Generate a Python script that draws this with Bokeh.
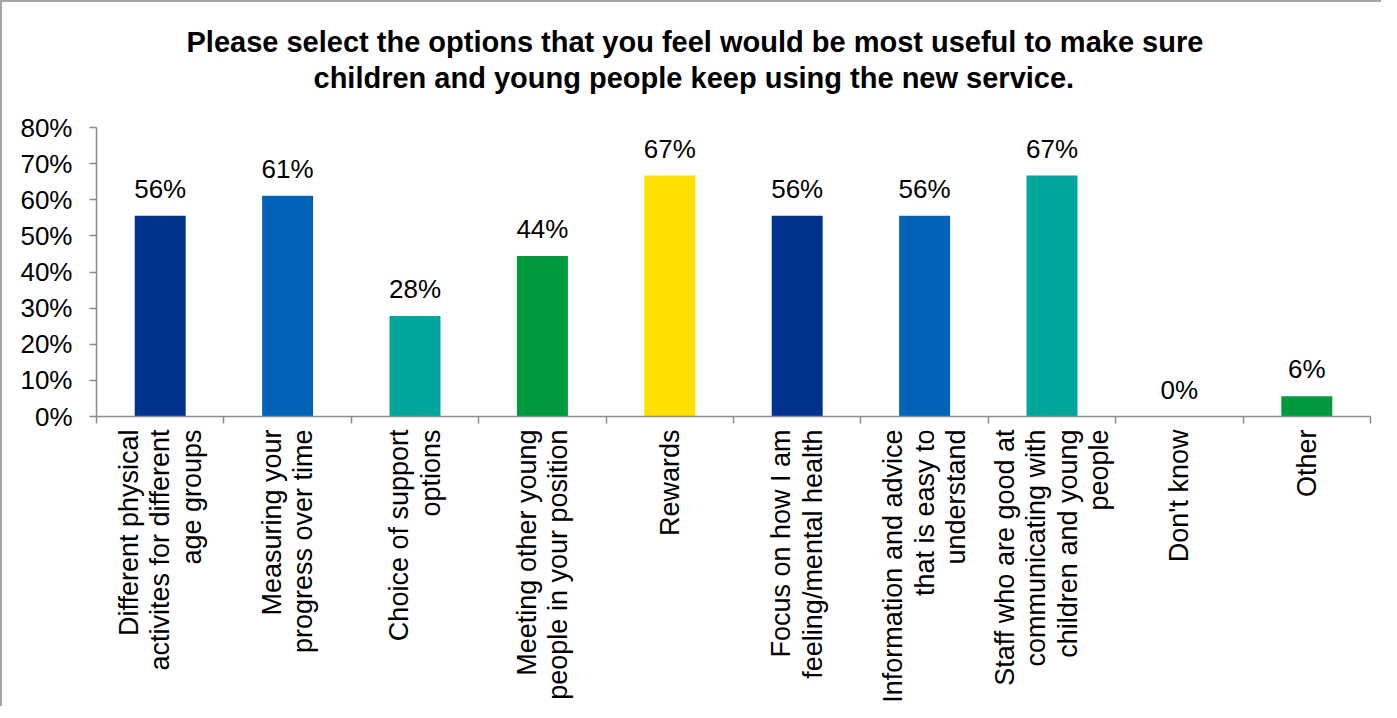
import numpy as np
from bokeh.plotting import figure
from bokeh.models import (ColumnDataSource, FixedTicker, NumeralTickFormatter,
                          LabelSet, Range1d, LinearAxis, Title)
from bokeh.core.properties import value
from bokeh.embed import file_html
from bokeh.resources import INLINE

# ---------------- data ----------------
title_lines = [
    "Please select the options that you feel would be most useful to make sure",
    "children and young people keep using the new service.",
]
categories = [
    "Different physical\nactivites for different\nage groups",
    "Measuring your\nprogress over time",
    "Choice of support\noptions",
    "Meeting other young\npeople in your position",
    "Rewards",
    "Focus on how I am\nfeeling/mental health",
    "Information and advice\nthat is easy to\nunderstand",
    "Staff who are good at\ncommunicating with\nchildren and young\npeople",
    "Don't know",
    "Other",
]
values = [0.556, 0.611, 0.278, 0.444, 0.667, 0.556, 0.556, 0.667, 0.0, 0.056]
y_ticks = [0.0, 0.1, 0.2, 0.3, 0.4, 0.5, 0.6, 0.7, 0.8]

# ---------------- style ----------------
bar_colors = ["#00338D", "#0063B8", "#00A69C", "#009A3E", "#FFE000",
              "#00338D", "#0063B8", "#00A69C", "#009A3E", "#009A3E"]
FONT = "Liberation Sans"
AXIS_GRAY = "#8C8C8C"

xs = np.arange(len(categories)) + 0.5
value_labels = [f"{round(v * 100)}%" for v in values]
src = ColumnDataSource(dict(x=xs, top=values, color=bar_colors, label=value_labels))

p = figure(width=1381, height=706, output_backend="svg", toolbar_location=None,
           x_range=Range1d(0, len(categories)), y_range=Range1d(0, 0.8),
           min_border_left=94, min_border_right=13, min_border_top=125,
           min_border_bottom=292)
p.styles = {"border-top": "2px solid #A6A6A6", "border-left": "2px solid #A6A6A6"}
p.outline_line_color = None
p.xgrid.visible = False
p.ygrid.visible = False
p.background_fill_color = "white"
p.border_fill_color = "white"

p.vbar(x="x", top="top", width=0.4, color="color", line_color=None, source=src)

# y axis
ya = p.yaxis[0]
ya.ticker = FixedTicker(ticks=y_ticks)
ya.formatter = NumeralTickFormatter(format="0%")
ya.axis_line_color = AXIS_GRAY
ya.axis_line_width = 1.5
ya.major_tick_line_color = AXIS_GRAY
ya.major_tick_line_width = 1.5
ya.major_tick_out = 7
ya.major_tick_in = 0
ya.minor_tick_out = 0
ya.minor_tick_in = 0
ya.major_label_text_font = FONT
ya.major_label_text_font_size = "26px"
ya.major_label_text_color = "black"
ya.major_label_standoff = 17

# x axis (ticks between categories, no labels)
xa = p.xaxis[0]
xa.ticker = FixedTicker(ticks=list(range(len(categories) + 1)))
xa.axis_line_color = AXIS_GRAY
xa.axis_line_width = 1.5
xa.major_tick_line_color = AXIS_GRAY
xa.major_tick_line_width = 1.5
xa.major_tick_out = 7
xa.major_tick_in = 0
xa.minor_tick_out = 0
xa.minor_tick_in = 0
xa.major_label_text_font_size = "0px"
xa.major_label_text_color = None
xa.major_label_standoff = 0

# category label axis (labels at bar centres)
xb = LinearAxis(ticker=FixedTicker(ticks=list(xs)),
                major_label_overrides={float(x): c for x, c in zip(xs, categories)})
xb.axis_line_color = None
xb.major_tick_line_color = None
xb.major_tick_out = 0
xb.major_tick_in = 0
xb.minor_tick_out = 0
xb.minor_tick_in = 0
xb.major_label_orientation = np.pi / 2
xb.major_label_text_font = FONT
xb.major_label_text_font_size = "27px"
xb.major_label_text_color = "black"
xb.major_label_text_line_height = 1.05
xb.major_label_standoff = 6
p.add_layout(xb, "below")

# title (two lines; line nearest the frame added first)
p.title.visible = False
t2 = Title(text=title_lines[1], align="left", offset=217, standoff=67,
           text_font=FONT, text_font_size="29px", text_font_style="bold",
           text_color="black")
t1 = Title(text=title_lines[0], align="left", offset=90, standoff=0,
           text_font=FONT, text_font_size="29px", text_font_style="bold",
           text_color="black")
try:
    t1.standoff = -63
except Exception:
    t1.standoff = 0
p.add_layout(t2, "above")
p.add_layout(t1, "above")

# value labels
p.add_layout(LabelSet(x="x", y="top", text="label", source=src, y_offset=12,
                      text_align="center", text_baseline="bottom",
                      text_font=value(FONT), text_font_size=value("26px"),
                      text_color="black"))

open("out.html", "w").write(file_html(p, INLINE))
